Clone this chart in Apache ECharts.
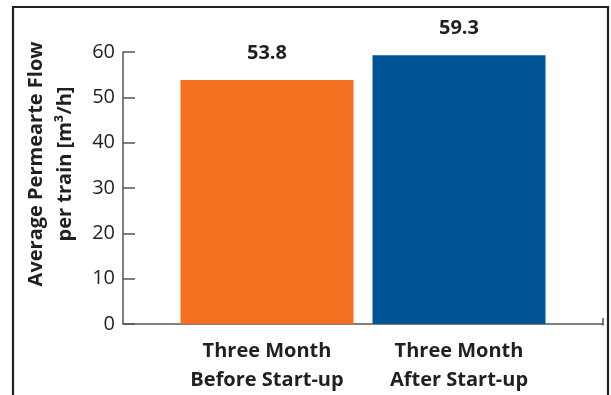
<!DOCTYPE html>
<html>
<head>
<meta charset="utf-8">
<script src="https://cdn.jsdelivr.net/npm/echarts@6/dist/echarts.min.js"></script>
<style>
html,body{margin:0;padding:0;background:#fff;}
#c{width:611px;height:395px;}
</style>
</head>
<body>
<div id="c"></div>
<script>
const categories = ['Three Month\nBefore Start-up', 'Three Month\nAfter Start-up'];
const values = [53.8, 59.3];
const colors = ['#F37021', '#005596'];
const yTicks = [0, 10, 20, 30, 40, 50, 60];
const yName = 'Average Permearte Flow\nper train [m³/h]';

const axisCats = ['', categories[0], '', categories[1], ''];
const barData = [null, {value: values[0], itemStyle: {color: colors[0]}}, null,
                 {value: values[1], itemStyle: {color: colors[1]}}, null];

const chart = echarts.init(document.getElementById('c'), null, {renderer: 'canvas'});
const font = '"Open Sans", "Noto Sans", sans-serif';
chart.setOption({
  backgroundColor: '#fff',
  animation: false,
  grid: {left: 123, right: 8, top: 52, bottom: 70, containLabel: false},
  graphic: [{
    type: 'rect', silent: true,
    shape: {x: 13, y: 7, width: 595, height: 400},
    style: {fill: 'none', stroke: '#222', lineWidth: 2.2}
  }, {
    type: 'line', silent: true,
    shape: {x1: 603, y1: 318, x2: 603, y2: 325.5},
    style: {stroke: '#555', lineWidth: 1.5}
  }],
  xAxis: {
    type: 'category',
    data: axisCats,
    axisLine: {show: true, lineStyle: {color: '#555', width: 1.5}},
    axisTick: {show: false},
    axisLabel: {
      interval: 0, margin: 13,
      fontFamily: font, fontWeight: 'bold', fontSize: 20,
      color: '#231f20', lineHeight: 29
    },
    splitLine: {show: false}
  },
  yAxis: {
    type: 'value',
    min: yTicks[0], max: yTicks[yTicks.length - 1], interval: 10,
    name: yName,
    nameLocation: 'middle',
    nameGap: 43,
    nameTextStyle: {
      fontFamily: font, fontWeight: 'bold', fontSize: 20,
      color: '#231f20', lineHeight: 29, padding: [0, 0, 0, 48]
    },
    axisLine: {show: true, lineStyle: {color: '#555', width: 1.5}},
    axisTick: {show: true, inside: true, length: 12, lineStyle: {color: '#555', width: 1.5}},
    axisLabel: {fontFamily: font, fontSize: 20, color: '#231f20', margin: 8},
    splitLine: {show: false}
  },
  series: [{
    type: 'bar',
    data: barData,
    barWidth: 173,
    label: {
      show: true, position: 'top', distance: 17,
      fontFamily: font, fontWeight: 'bold', fontSize: 20, color: '#231f20',
      formatter: p => p.value.toFixed(1)
    }
  }]
});
</script>
</body>
</html>
